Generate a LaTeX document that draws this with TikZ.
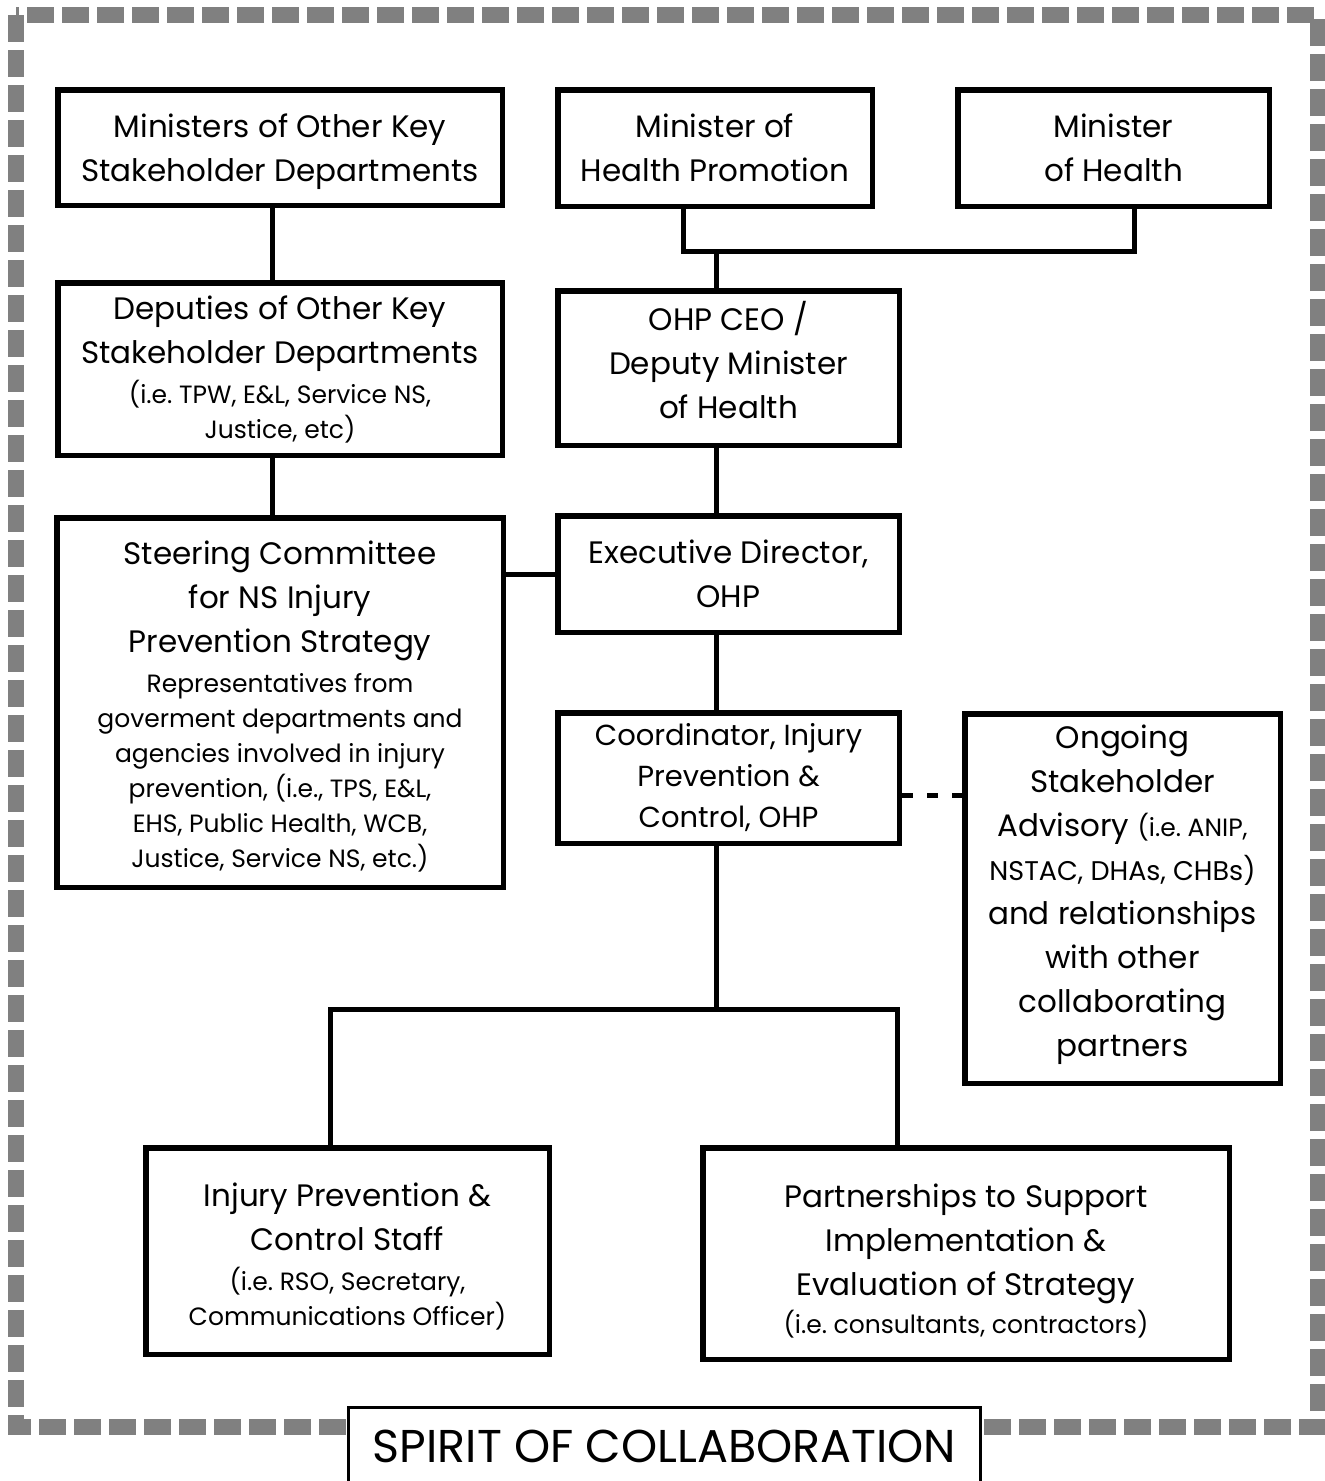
\documentclass[tikz,border=0pt]{standalone}
\usepackage{fontspec}
\setmainfont{Poppins}
\usetikzlibrary{calc}
\frenchspacing
\newcommand\txtL{\fontsize{31}{44}\selectfont}
\newcommand\txtM{\fontsize{29}{41}\selectfont}
\newcommand\txtS{\fontsize{25}{35}\selectfont}
\newcommand\txtX{\fontsize{46}{56}\selectfont}
% text block: width, vertical shift, content
\newcommand\tb[3]{\raisebox{#2}[\height][\depth]{\parbox{#1}{\centering\frenchspacing #3\par}}}
\begin{document}
\begin{tikzpicture}[x=1pt,y=-1pt,
  box/.style 2 args={draw, line width=5.5pt, fill=white, inner sep=0pt,
    minimum width=#1pt, minimum height=#2pt, font=\txtL},
  link/.style={line width=5pt},
  dlink/.style={line width=5pt, dash pattern=on 11pt off 14pt},
  frame/.style={draw=black!50, line width=16pt, dash pattern=on 27pt off 8pt}
]
\useasboundingbox (0,0) rectangle (1325,1481);
\draw[frame] (16,15) rectangle (1318,1427);

\node[box={444.5}{115.5}] (min1) at (280,147.5) {\tb{440pt}{-4pt}{Ministers of Other Key\\Stakeholder Departments}};
\node[box={314.5}{116.5}] (mhp) at (715,148) {\tb{310pt}{0pt}{Minister of\\Health Promotion}};
\node[box={311.5}{116.5}] (mh) at (1113.5,148) {\tb{305pt}{0pt}{Minister\\of Health}};
\node[box={444.5}{172.5}] (dep) at (280,369) {\tb{440pt}{0pt}{Deputies of Other Key\\Stakeholder Departments\par\vspace{5pt}
  {\txtS (i.e. TPW, E\&L, Service NS,\\Justice, etc)\par}}};
\node[box={341.5}{154.5}] (ceo) at (728.5,368) {\tb{335pt}{8pt}{OHP CEO /\\Deputy Minister\\of Health}};
\node[box={446.5}{369.5}] (steer) at (280,702.5) {\tb{440pt}{-4pt}{Steering Committee\\for NS Injury\\Prevention Strategy\par\vspace{5pt}
  {\txtS Representatives from\\goverment departments and\\agencies involved in injury\\prevention, (i.e., TPS, E\&L,\\EHS, Public Health, WCB,\\Justice, Service NS, etc.)\par}}};
\node[box={341.5}{116.5}] (exec) at (728.5,574) {\tb{335pt}{0pt}{Executive Director,\\OHP}};
\node[box={341.5}{130.5}, font=\txtM] (coord) at (728.5,778) {\tb{335pt}{0pt}{Coordinator, Injury\\Prevention \&\\Control, OHP}};
\node[box={315.5}{369.5}] (ong) at (1122.5,898.5) {\tb{310pt}{4pt}{Ongoing\\Stakeholder\\Advisory {\txtS (i.e. ANIP,}\\{\fontsize{27}{35}\selectfont NSTAC, DHAs, CHBs)}\\and relationships\\with other\\collaborating\\partners}};
\node[box={403.5}{206.5}] (ipc) at (347.5,1251) {\tb{400pt}{-6pt}{Injury Prevention \&\\Control Staff\par\vspace{5pt}
  {\txtS (i.e. RSO, Secretary,\\Communications Officer)\par}}};
\node[box={526.5}{211.5}] (part) at (966,1253.5) {\tb{520pt}{-8pt}{Partnerships to Support\\Implementation \&\\Evaluation of Strategy\par\vspace{3pt}
  {\txtS (i.e. consultants, contractors)\par}}};
\node[draw, line width=3pt, fill=white, minimum width=632pt, minimum height=77pt, inner sep=0pt, font=\txtX] (spirit) at (664.5,1446) {SPIRIT OF COLLABORATION};

\coordinate (bar) at (716,251);
\coordinate (bl) at (330,1009);
\coordinate (brr) at (897,1009);
\coordinate (bm) at (716,1009);

\draw[link] ([xshift=-8pt]min1.south) -- ([xshift=-8pt]dep.north);
\draw[link] ([xshift=-8pt]dep.south) -- ([xshift=-8pt]steer.north);
\draw[link] ([xshift=-32pt]mhp.south) |- (bar) -| ([xshift=20.5pt]mh.south);
\draw[link] (bar) -- (bar |- ceo.north);
\draw[link] ([xshift=-12.5pt]ceo.south) -- ([xshift=-12.5pt]exec.north);
\draw[link] (exec.west) -- (exec.west -| steer.east);
\draw[link] ([xshift=-12.5pt]exec.south) -- ([xshift=-12.5pt]coord.north);
\draw[dlink] ([yshift=-17pt]coord.east) -- ([yshift=-17pt]coord.east -| ong.west);
\draw[link] ([xshift=-12.5pt]coord.south) -- (bm);
\draw[link] (bl |- ipc.north) -- (bl) -- (brr) -- (brr |- part.north);
\end{tikzpicture}
\end{document}
